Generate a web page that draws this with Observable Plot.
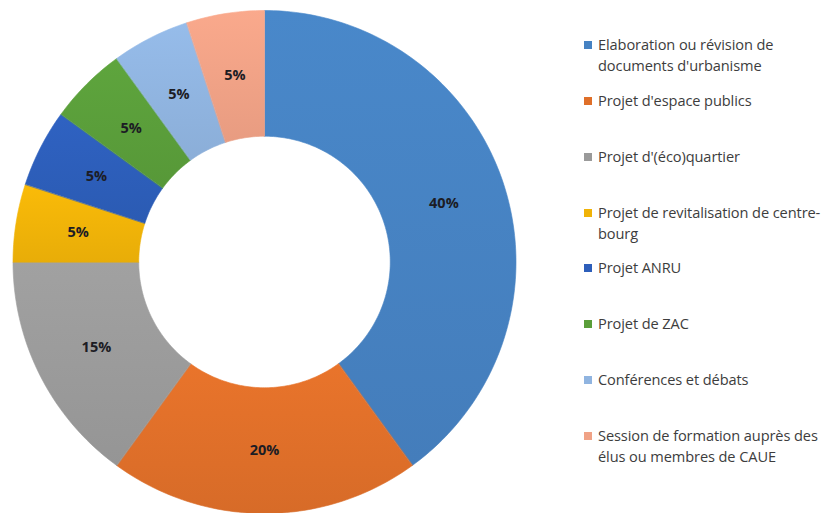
<!DOCTYPE html>
<html>
<head>
<meta charset="utf-8">
<script src="https://cdn.jsdelivr.net/npm/d3@7"></script>
<script src="https://cdn.jsdelivr.net/npm/@observablehq/plot@0.6"></script>
<style>
  html, body { margin: 0; padding: 0; background: #fff; }
  #wrap { position: relative; width: 840px; height: 513px; overflow: hidden; }
  #legend { position: absolute; left: 584px; top: 0; font-family: "Open Sans", sans-serif; font-size: 14.6px; color: #3d3d3d; }
  .item { position: absolute; left: 0; width: 256px; white-space: pre; line-height: 21px; }
  .sw { position: absolute; left: 0; top: 7px; width: 8px; height: 8px; }
  .tx { position: absolute; left: 14px; top: 0; letter-spacing: -0.1px; }
</style>
</head>
<body>
<div id="wrap"><div id="legend"></div></div>
<script>
const categories = [
  "Elaboration ou révision de documents d'urbanisme",
  "Projet d'espace publics",
  "Projet d'(éco)quartier",
  "Projet de revitalisation de centre-bourg",
  "Projet ANRU",
  "Projet de ZAC",
  "Conférences et débats",
  "Session de formation auprès des élus ou membres de CAUE"
];
const legendText = [
  "Elaboration ou révision de\ndocuments d'urbanisme",
  "Projet d'espace publics",
  "Projet d'(éco)quartier",
  "Projet de revitalisation de centre-\nbourg",
  "Projet ANRU",
  "Projet de ZAC",
  "Conférences et débats",
  "Session de formation auprès des\nélus ou membres de CAUE"
];
const values = [40, 20, 15, 5, 5, 5, 5, 5];
const valueLabels = ["40%", "20%", "15%", "5%", "5%", "5%", "5%", "5%"];
const colors = ["#4682C2", "#DF6F29", "#9A9A9A", "#F0B308", "#2D5EBA", "#5A9E3A", "#90B4E0", "#F0A286"];

const innerRatio = 0.5;
const labelRatio = 0.75;
const total = d3.sum(values);

// Build slice geometry from data (angles derived from cumulative values)
const slices = [];
let cum = 0;
values.forEach((v, i) => {
  const a0 = cum / total * 2 * Math.PI;
  cum += v;
  const a1 = cum / total * 2 * Math.PI;
  slices.push({cat: categories[i], value: v, label: valueLabels[i], a0, a1, mid: (a0 + a1) / 2});
});

const pts = [];
for (const s of slices) {
  const n = Math.max(4, Math.ceil((s.a1 - s.a0) / (Math.PI / 180)));
  for (let k = 0; k <= n; k++) {
    const a = s.a0 + (s.a1 - s.a0) * k / n;
    pts.push({cat: s.cat, x: Math.sin(a), y: Math.cos(a)});
  }
  for (let k = n; k >= 0; k--) {
    const a = s.a0 + (s.a1 - s.a0) * k / n;
    pts.push({cat: s.cat, x: innerRatio * Math.sin(a), y: innerRatio * Math.cos(a)});
  }
}

const plot = Plot.plot({
  width: 840,
  height: 513,
  marginLeft: 12.5,
  marginRight: 324.5,
  marginTop: 10,
  marginBottom: 0,
  x: {domain: [-1, 1], axis: null},
  y: {domain: [-1, 1], axis: null},
  color: {domain: categories, range: colors},
  style: {background: "transparent", overflow: "visible"},
  marks: [
    Plot.line(pts, {x: "x", y: "y", z: "cat", fill: "cat", stroke: "cat", strokeWidth: 0.6, curve: "linear-closed"}),
    Plot.text(slices, {
      x: d => labelRatio * Math.sin(d.mid),
      y: d => labelRatio * Math.cos(d.mid),
      text: "label",
      fill: "#1c1c24",
      fontSize: 14.5,
      fontWeight: "bold",
      fontFamily: "Open Sans, sans-serif"
    })
  ]
});

// Subtle vertical gradient like the original fill
const svg = d3.select(plot);
const defs = svg.insert("defs", ":first-child");
colors.forEach((c, i) => {
  const g = defs.append("linearGradient").attr("id", "grad" + i).attr("x1", 0).attr("y1", 0).attr("x2", 0).attr("y2", 1);
  g.append("stop").attr("offset", "0%").attr("stop-color", d3.color(c).brighter(0.12).formatHex());
  g.append("stop").attr("offset", "100%").attr("stop-color", d3.color(c).darker(0.1).formatHex());
});
svg.selectAll("path").each(function() {
  const f = this.getAttribute("fill");
  const idx = colors.findIndex(c => f && f.toLowerCase() === c.toLowerCase());
  if (idx >= 0) {
    this.setAttribute("fill", `url(#grad${idx})`);
    this.setAttribute("stroke", `url(#grad${idx})`);
  }
});

const wrap = document.getElementById("wrap");
wrap.insertBefore(plot, wrap.firstChild);

const legend = document.getElementById("legend");
const legendTops = [34, 90, 146, 202, 257, 313, 369, 425];
legendText.forEach((t, i) => {
  const item = document.createElement("div");
  item.className = "item";
  item.style.top = legendTops[i] + "px";
  item.innerHTML = `<div class="sw" style="background:${colors[i]}"></div><div class="tx"></div>`;
  item.querySelector(".tx").textContent = t;
  legend.appendChild(item);
});
</script>
</body>
</html>
